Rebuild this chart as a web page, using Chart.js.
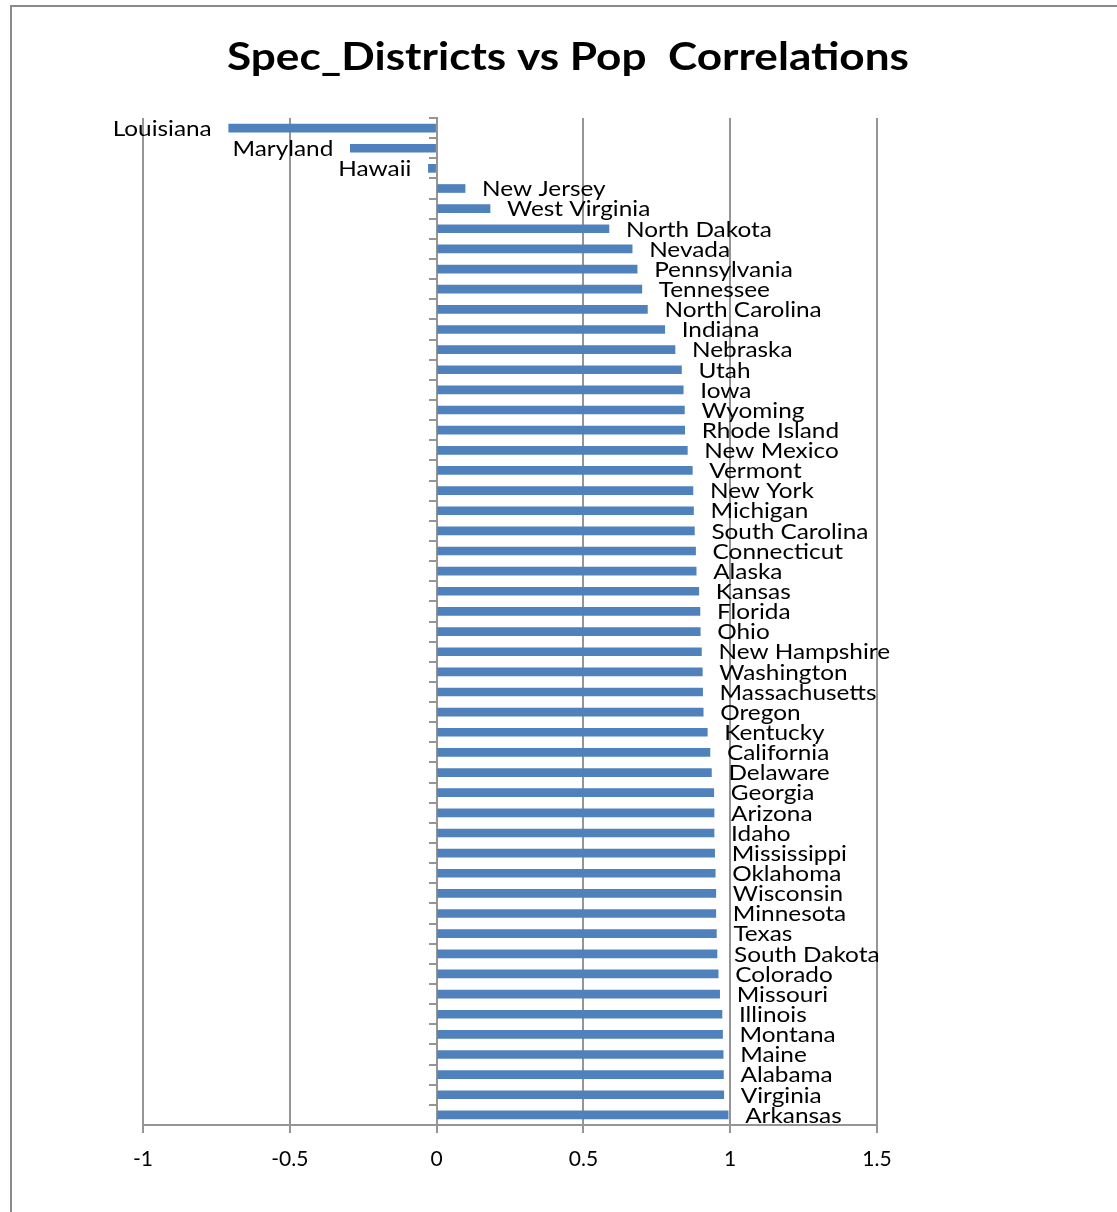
<!DOCTYPE html>
<html>
<head>
<meta charset="utf-8">
<title>Spec_Districts vs Pop Correlations</title>
<script src="https://cdn.jsdelivr.net/npm/chart.js@4/dist/chart.umd.min.js"></script>
<style>
  html, body { margin: 0; padding: 0; background: #fff; overflow: hidden; }
  #wrap { position: relative; width: 1117px; height: 1212px; }
  #frame {
    position: absolute; left: 10px; top: 5px;
    width: 1200px; height: 1300px;
    border: 2px solid #8a8a8a;
  }
  #chart { position: absolute; left: 0; top: 0; }
</style>
</head>
<body>
<div id="wrap">
  <div id="frame"></div>
  <canvas id="chart" width="1117" height="1212"></canvas>
</div>
<script>
const chartTitle = "Spec_Districts vs Pop  Correlations";

// states, top to bottom as in the chart
const states = [
  "Louisiana", "Maryland", "Hawaii", "New Jersey", "West Virginia",
  "North Dakota", "Nevada", "Pennsylvania", "Tennessee", "North Carolina",
  "Indiana", "Nebraska", "Utah", "Iowa", "Wyoming",
  "Rhode Island", "New Mexico", "Vermont", "New York", "Michigan",
  "South Carolina", "Connecticut", "Alaska", "Kansas", "Florida",
  "Ohio", "New Hampshire", "Washington", "Massachusetts", "Oregon",
  "Kentucky", "California", "Delaware", "Georgia", "Arizona",
  "Idaho", "Mississippi", "Oklahoma", "Wisconsin", "Minnesota",
  "Texas", "South Dakota", "Colorado", "Missouri", "Illinois",
  "Montana", "Maine", "Alabama", "Virginia", "Arkansas"
];

const correlations = [
  -0.708, -0.294, -0.028, 0.097, 0.182,
  0.587, 0.666, 0.683, 0.699, 0.718,
  0.777, 0.812, 0.834, 0.840, 0.844,
  0.845, 0.854, 0.871, 0.873, 0.875,
  0.878, 0.882, 0.884, 0.893, 0.897,
  0.898, 0.902, 0.905, 0.906, 0.908,
  0.922, 0.931, 0.936, 0.944, 0.945,
  0.945, 0.947, 0.949, 0.951, 0.951,
  0.953, 0.955, 0.959, 0.964, 0.972,
  0.974, 0.976, 0.977, 0.978, 0.993
];

const xMin = -1;
const xMax = 1.5;
const xStep = 0.5;

const GRID = "#959595";
const BAR = "#4F81BD";

// the original picture is a little stretched sideways, so text is too
const LABEL_STRETCH = 1.16;
const TITLE_WIDTH = 682;

const titlePlugin = {
  id: "stretchedTitle",
  afterDraw(chart) {
    const ctx = chart.ctx;
    ctx.save();
    ctx.font = "bold 39px Lato";
    ctx.fillStyle = "#000";
    ctx.textAlign = "center";
    ctx.textBaseline = "alphabetic";
    const s = TITLE_WIDTH / ctx.measureText(chartTitle).width;
    ctx.translate(568, 70);
    ctx.scale(s, 1);
    ctx.fillText(chartTitle, 0, 0);
    ctx.restore();
  }
};

const barLabels = {
  id: "barLabels",
  afterDatasetsDraw(chart) {
    const ctx = chart.ctx;
    const meta = chart.getDatasetMeta(0);
    ctx.save();
    ctx.font = "21px Lato";
    ctx.fillStyle = "#000";
    ctx.textBaseline = "middle";
    meta.data.forEach((bar, i) => {
      const neg = correlations[i] < 0;
      ctx.save();
      ctx.translate(neg ? bar.x - 17 : bar.x + 17, bar.y + 1);
      ctx.scale(LABEL_STRETCH, 1);
      ctx.textAlign = neg ? "right" : "left";
      ctx.fillText(states[i], 0, 0);
      ctx.restore();
    });
    ctx.restore();
  }
};

window.addEventListener("DOMContentLoaded", () => {
  const ctx = document.getElementById("chart").getContext("2d");
  new Chart(ctx, {
    type: "bar",
    data: {
      labels: states,
      datasets: [{
        data: correlations,
        backgroundColor: BAR,
        borderWidth: 0,
        barThickness: 8
      }]
    },
    options: {
      indexAxis: "y",
      responsive: false,
      animation: false,
      layout: { padding: { left: 143, right: 240, top: 118, bottom: 27 } },
      plugins: {
        legend: { display: false },
        title: { display: false },
        tooltip: { enabled: false }
      },
      scales: {
        x: {
          type: "linear",
          min: xMin,
          max: xMax,
          ticks: {
            stepSize: xStep,
            color: "#000",
            padding: 14,
            font: { family: "Lato", size: 21 },
            callback: v => String(v)
          },
          grid: { color: GRID, lineWidth: 2, tickLength: 8, tickColor: GRID },
          border: { color: GRID, width: 2 },
          afterFit: s => { s.height = 60; }
        },
        y: {
          type: "category",
          position: { x: 0 },
          offset: true,
          ticks: { display: false },
          grid: {
            offset: true,
            drawOnChartArea: false,
            drawTicks: true,
            tickLength: 7,
            color: GRID,
            lineWidth: 2
          },
          border: { color: GRID, width: 2 }
        }
      }
    },
    plugins: [barLabels, titlePlugin]
  });
});
</script>
</body>
</html>
